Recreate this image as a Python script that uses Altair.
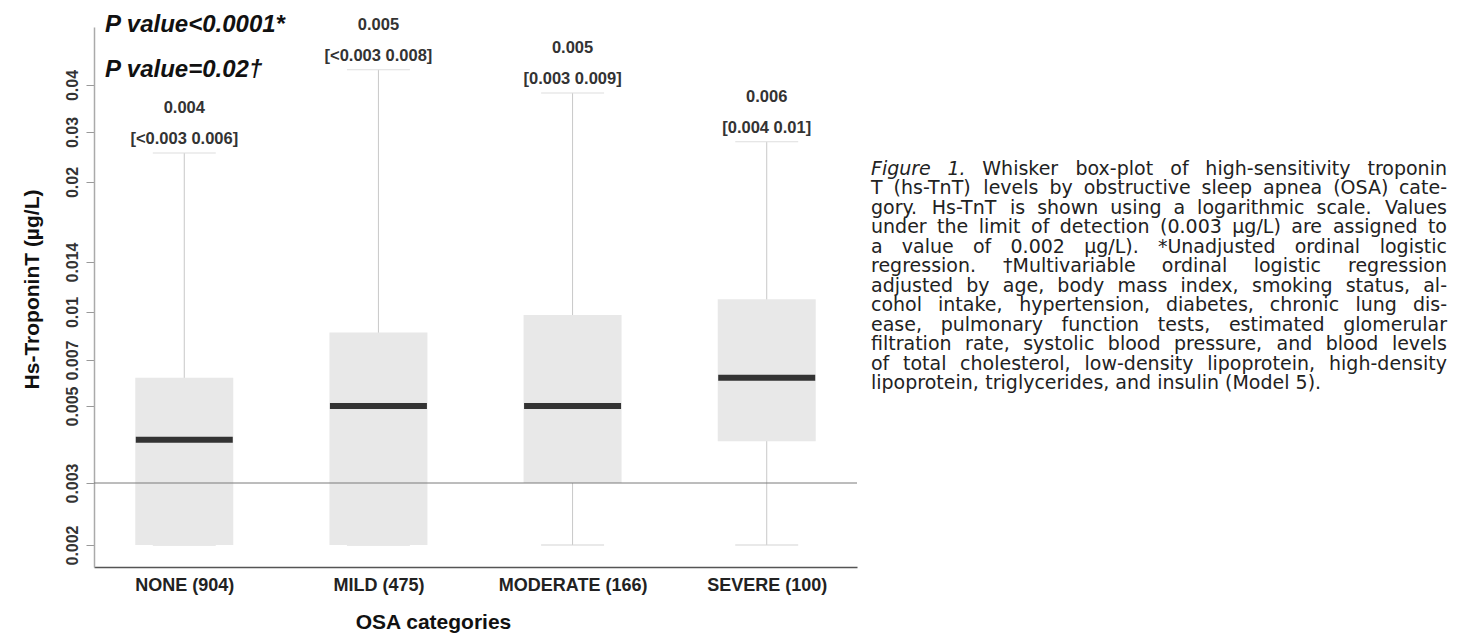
import altair as alt
import pandas as pd

# ---------------- data ----------------
categories = ["NONE (904)", "MILD (475)", "MODERATE (166)", "SEVERE (100)"]
q1 = [0.002, 0.002, 0.003, 0.00396]
median = [0.004, 0.005, 0.005, 0.00615]
q3 = [0.00615, 0.00858, 0.00978, 0.0109]
whisker_low = [0.002, 0.002, 0.002, 0.002]
whisker_high = [0.0253, 0.0439, 0.0381, 0.0277]
median_labels = ["0.004", "0.005", "0.005", "0.006"]
iqr_labels = ["[<0.003 0.006]", "[<0.003 0.008]", "[0.003 0.009]", "[0.004 0.01]"]
y_ticks = [0.002, 0.003, 0.005, 0.007, 0.01, 0.014, 0.02, 0.03, 0.04]
limit_of_detection = [0.003]
p_value_1 = "P value<0.0001*"
p_value_2 = "P value=0.02\u2020"

caption_lines = [
    "Figure 1. Whisker box-plot of high-sensitivity troponin",
    "T (hs-TnT) levels by obstructive sleep apnea (OSA) cate-",
    "gory. Hs-TnT is shown using a logarithmic scale. Values",
    "under the limit of detection (0.003 \u00b5g/L) are assigned to",
    "a value of 0.002 \u00b5g/L). *Unadjusted ordinal logistic",
    "regression. \u2020Multivariable ordinal logistic regression",
    "adjusted by age, body mass index, smoking status, al-",
    "cohol intake, hypertension, diabetes, chronic lung dis-",
    "ease, pulmonary function tests, estimated glomerular",
    "filtration rate, systolic blood pressure, and blood levels",
    "of total cholesterol, low-density lipoprotein, high-density",
    "lipoprotein, triglycerides, and insulin (Model 5).",
]

# ---------------- layout ----------------
PLOT_W, PLOT_H = 763, 540
FONT = "Liberation Sans"
CAP_FONT = "DejaVu Sans"
CAP_SIZE = 19
CAP_X0, CAP_W, CAP_Y0, CAP_DY = 777, 576, 142, 19.45

df = pd.DataFrame({
    "cat": categories, "q1": q1, "median": median, "q3": q3,
    "lo": whisker_low, "hi": whisker_high,
    "mlab": median_labels, "iqr": iqr_labels,
})

# piecewise log scale: the original axis spacing is irregular
y_domain = [0.00173] + y_ticks + [0.0571]
y_range = [540, 518, 456, 379, 333, 285, 235, 155, 105, 58, 0]

x_enc = alt.X(
    "cat:N", sort=categories,
    scale=alt.Scale(type="point", padding=0.465),
    axis=alt.Axis(
        title="OSA categories", labelAngle=0, ticks=False, tickSize=0,
        domainColor="#555555", domainWidth=1.5,
        labelFont=FONT, labelFontSize=18, labelFontWeight="bold",
        labelColor="#222222", labelPadding=9, labelBaseline="top",
        titleFont=FONT, titleFontSize=21, titleFontWeight="bold",
        titleColor="#111111", titleX=339, titleY=55,
        titleAlign="center", titleBaseline="middle",
    ),
)

y_scale = alt.Scale(type="log", domain=y_domain, range=y_range, nice=False)


def y_enc(field):
    return alt.Y(
        f"{field}:Q", scale=y_scale,
        axis=alt.Axis(
            title="Hs-TroponinT (\u00b5g/L)", values=y_ticks, format="~g",
            grid=False, labelOverlap=False,
            labelAngle=270, labelAlign="center", labelBaseline="alphabetic",
            labelFont=FONT, labelFontSize=16, labelFontWeight="bold",
            labelColor="#333333", labelPadding=9,
            tickSize=8, tickColor="#999999", domainColor="#aaaaaa", domainWidth=1.5,
            titleFont=FONT, titleFontSize=21, titleFontWeight="bold",
            titleColor="#111111", titleAngle=270, titleX=-62, titleY=262,
            titleAlign="center", titleBaseline="middle",
        ),
    )


base = alt.Chart(df)

whiskers = base.mark_rule(color="#c8c8c8", strokeWidth=1).encode(
    x=x_enc, y=y_enc("lo"), y2="hi:Q")
cap_lo = base.mark_tick(size=63, thickness=1, color="#d4d4d4", opacity=1).encode(
    x=x_enc, y=y_enc("lo"))
cap_hi = base.mark_tick(size=63, thickness=1, color="#dedede", opacity=1).encode(
    x=x_enc, y=y_enc("hi"))
boxes = base.mark_bar(size=98, color="#e8e8e8").encode(x=x_enc, y=y_enc("q1"), y2="q3:Q")
lod_rule = alt.Chart(pd.DataFrame({"lod": limit_of_detection})).mark_rule(
    color="#7a7a7a", strokeWidth=1).encode(y=y_enc("lod"))
medians = base.mark_tick(size=97, thickness=6, color="#333333", opacity=1).encode(
    x=x_enc, y=y_enc("median"))

med_text = base.mark_text(dy=-45, font=FONT, fontSize=16.5, fontWeight="bold",
                          color="#333333", baseline="middle", align="center").encode(
    x=x_enc, y=y_enc("hi"), text="mlab:N")
iqr_text = base.mark_text(dy=-14, font=FONT, fontSize=16.5, fontWeight="bold",
                          color="#333333", baseline="middle", align="center").encode(
    x=x_enc, y=y_enc("hi"), text="iqr:N")

p1 = alt.Chart(pd.DataFrame({"t": [p_value_1]})).mark_text(
    font=FONT, fontSize=24, fontWeight="bold", fontStyle="italic",
    align="left", baseline="alphabetic", color="#111111").encode(
    x=alt.value(11), y=alt.value(5), text="t:N")
p2 = alt.Chart(pd.DataFrame({"t": [p_value_2]})).mark_text(
    font=FONT, fontSize=24, fontWeight="bold", fontStyle="italic",
    align="left", baseline="alphabetic", color="#111111").encode(
    x=alt.value(11), y=alt.value(50), text="t:N")

# ---------------- caption (justified by word placement) ----------------
DV = {' ': 651, '(': 799, ')': 799, '-': 739, '.': 651, ',': 651, '/': 690, '*': 1024,
      '\u2020': 1024, '\u00b5': 1300,
      'A': 1401, 'B': 1405, 'C': 1430, 'D': 1577, 'E': 1294, 'F': 1178, 'G': 1587,
      'H': 1540, 'I': 604, 'J': 604, 'K': 1343, 'L': 1141, 'M': 1767, 'N': 1532,
      'O': 1612, 'P': 1235, 'Q': 1612, 'R': 1423, 'S': 1300, 'T': 1251, 'U': 1499,
      'V': 1401, 'W': 2025, 'X': 1403, 'Y': 1251, 'Z': 1403,
      'a': 1255, 'b': 1300, 'c': 1126, 'd': 1300, 'e': 1260, 'f': 721, 'g': 1300,
      'h': 1298, 'i': 569, 'j': 569, 'k': 1186, 'l': 569, 'm': 1995, 'n': 1298,
      'o': 1253, 'p': 1300, 'q': 1300, 'r': 842, 's': 1067, 't': 803, 'u': 1298,
      'v': 1212, 'w': 1675, 'x': 1212, 'y': 1212, 'z': 1075}
for d in "0123456789":
    DV[d] = 1303


def tw(s):
    return sum(DV.get(c, 1250) for c in s) * CAP_SIZE / 2048.0


rows = []
last = len(caption_lines) - 1
for i, line in enumerate(caption_lines):
    words = line.split(" ")
    widths = [tw(w) for w in words]
    py = CAP_Y0 + i * CAP_DY
    gap = (CAP_W - sum(widths)) / (len(words) - 1) if i < last else tw(" ")
    x = CAP_X0
    for j, (w, wd) in enumerate(zip(words, widths)):
        if i < last and j == len(words) - 1:
            kind, px = "right", CAP_X0 + CAP_W
        elif i == 0 and j < 2:
            kind, px = "italic", x
        else:
            kind, px = "left", x
        rows.append({"word": w, "px": px, "py": py, "kind": kind})
        x += wd + gap
cap_df = pd.DataFrame(rows)


def cap_layer(kind, align, style):
    return alt.Chart(cap_df[cap_df.kind == kind]).mark_text(
        font=CAP_FONT, fontSize=CAP_SIZE, fontStyle=style, align=align,
        baseline="middle", color="#222222").encode(
        x=alt.X("px:Q", scale=None), y=alt.Y("py:Q", scale=None), text="word:N")


caption = cap_layer("left", "left", "normal") + cap_layer("right", "right", "normal") + \
    cap_layer("italic", "left", "italic")

chart = alt.layer(
    whiskers, cap_lo, cap_hi, boxes, lod_rule, medians, med_text, iqr_text, p1, p2, caption
).properties(
    width=PLOT_W, height=PLOT_H,
    autosize=alt.AutoSizeParams(type="none"),
    padding={"left": 86, "top": 19, "right": 594, "bottom": 66},
    background="white",
).configure_view(stroke=None)

chart.save("out.html", embed_options={"renderer": "svg", "actions": False})
